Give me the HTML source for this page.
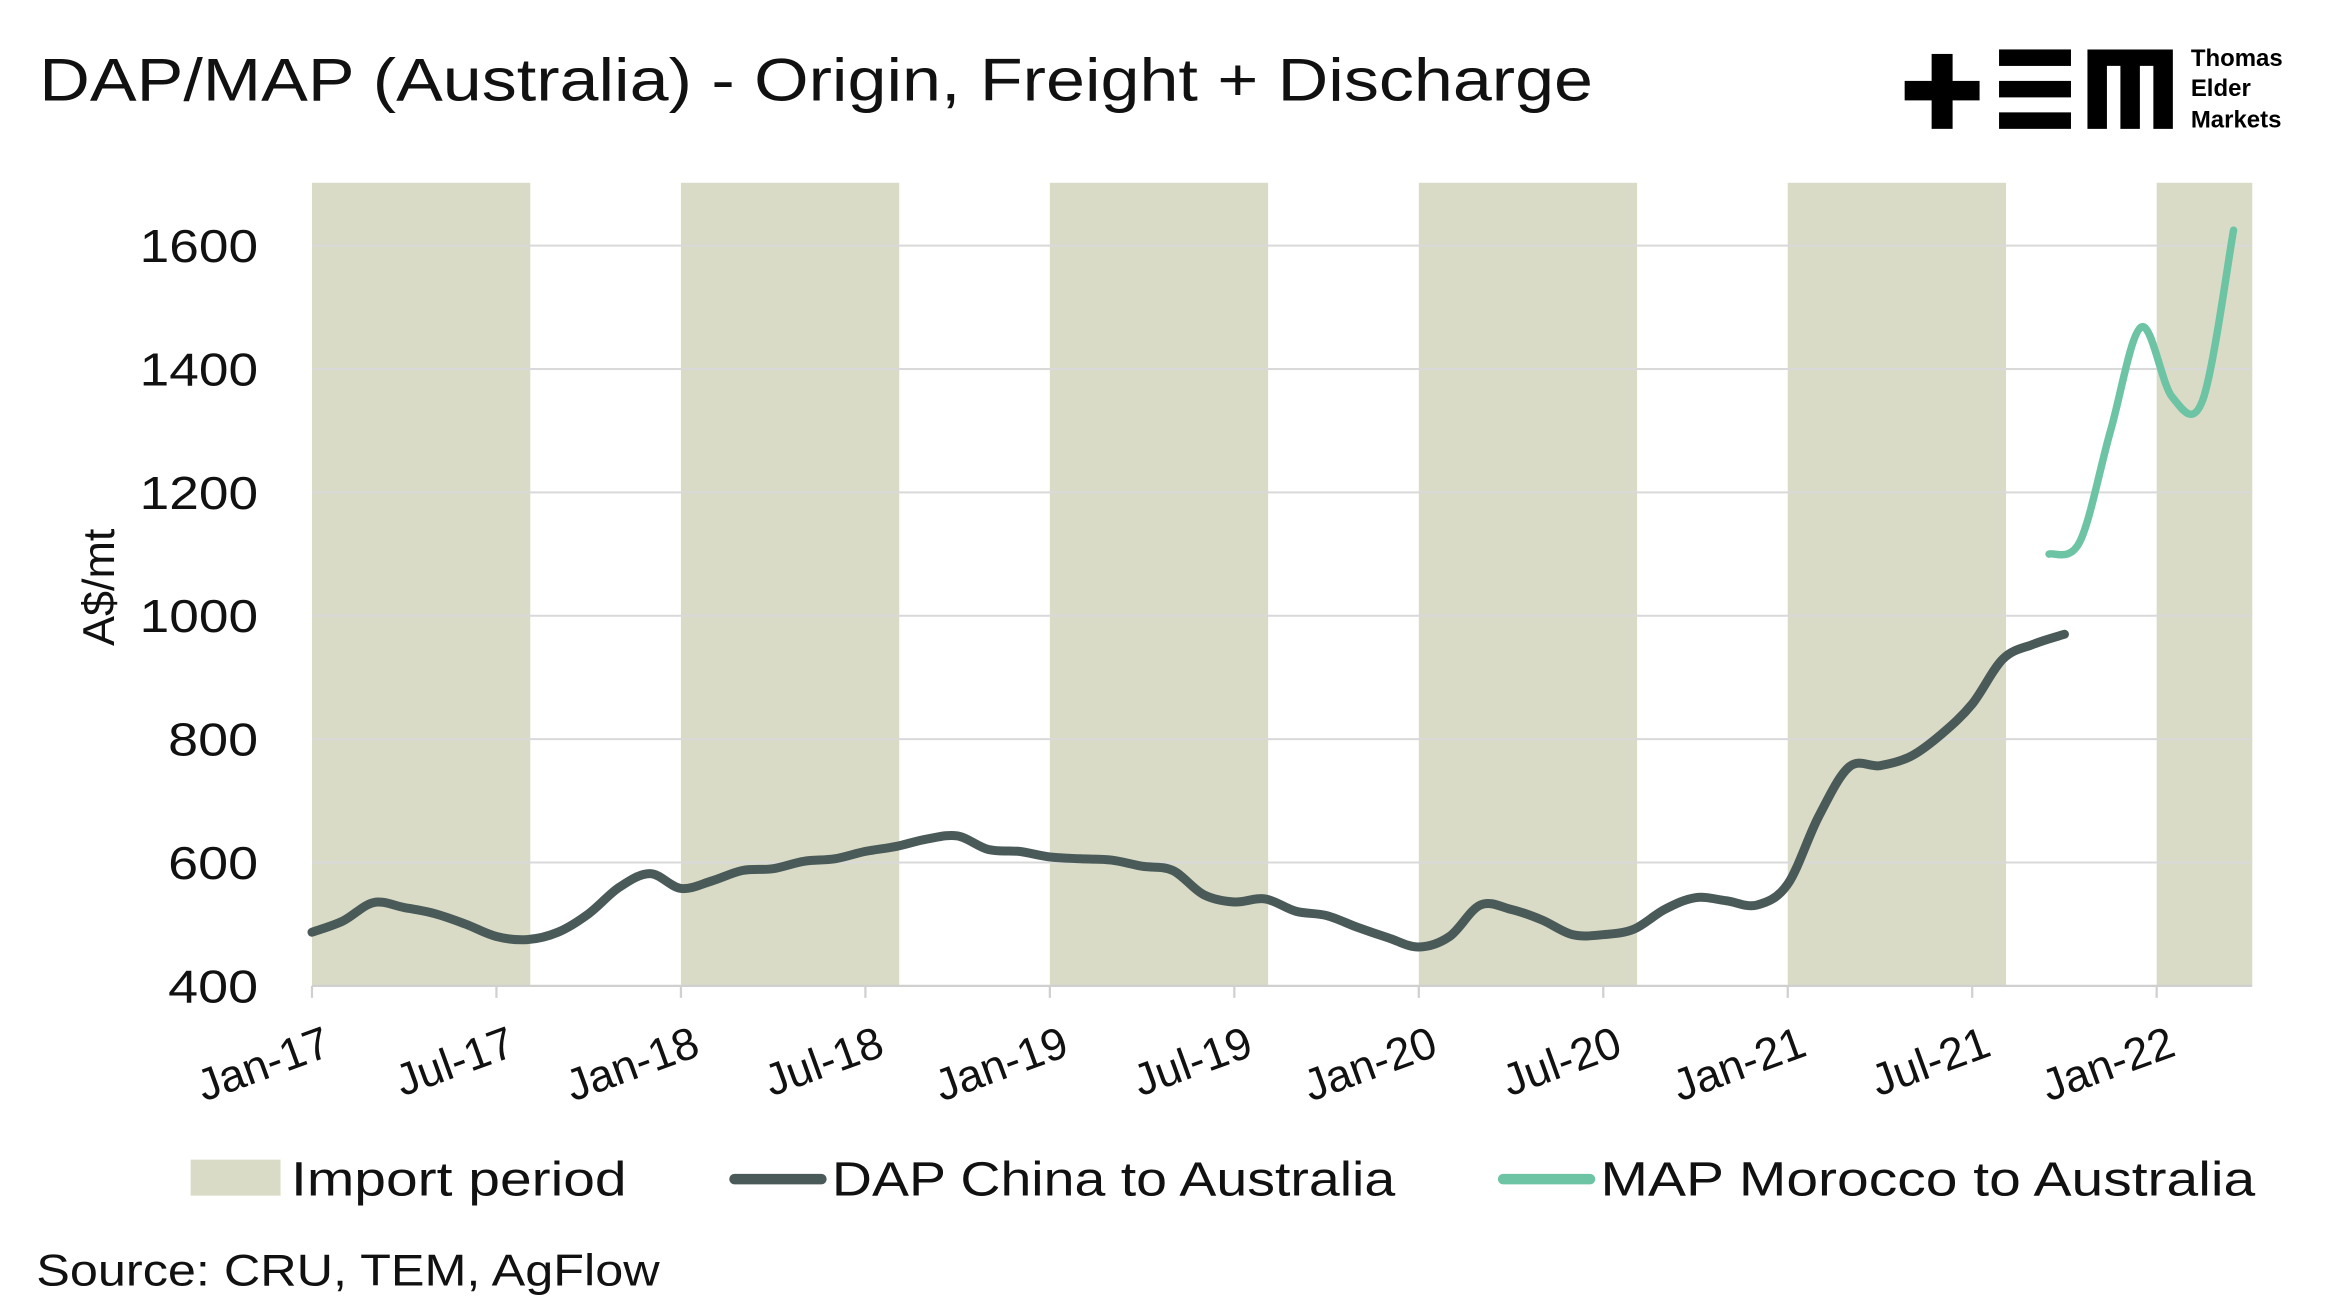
<!DOCTYPE html>
<html><head><meta charset="utf-8"><style>
html,body{margin:0;padding:0;background:#fff;}
svg{display:block;font-family:"Liberation Sans",sans-serif;}
</style></head><body>
<svg id="chart" width="2350" height="1302" viewBox="0 0 1568 869" xmlns="http://www.w3.org/2000/svg">
<rect x="0" y="0" width="1568" height="869" fill="#fff"/>
<text x="26" y="67" font-size="40" textLength="1037" lengthAdjust="spacingAndGlyphs" fill="#111">DAP/MAP (Australia) - Origin, Freight + Discharge</text>
<g>
<rect x="1271" y="54" width="50" height="13" fill="#000"/>
<rect x="1289" y="36" width="14" height="50" fill="#000"/>
<rect x="1334" y="33" width="48" height="11" fill="#000"/>
<rect x="1334" y="54" width="48" height="11" fill="#000"/>
<rect x="1334" y="75" width="48" height="11" fill="#000"/>
<path d="M1393 86 V33 H1450 V86 H1437 V44 H1428 V86 H1415 V44 H1406 V86 Z" fill="#000"/>
<text x="1462" y="44" font-size="16" font-weight="bold" fill="#000">Thomas</text>
<text x="1462" y="64" font-size="16" font-weight="bold" fill="#000">Elder</text>
<text x="1462" y="85" font-size="16" font-weight="bold" fill="#000">Markets</text>
</g>
<g id="bands"></g>
<g id="grid"></g>
<g id="series"></g>
<g id="axes"></g>
<text transform="translate(76,392) rotate(-90)" text-anchor="middle" font-size="30" fill="#111">A$/mt</text>
<g>
<g><rect x="127" y="774" width="60" height="24" fill="#d9dbc6"/><text x="194" y="798" font-size="32" textLength="224" lengthAdjust="spacingAndGlyphs" fill="#111">Import period</text></g>
<g><line x1="490" y1="787" x2="548" y2="787" stroke="#4a5a58" stroke-width="7" stroke-linecap="round"/><text x="555" y="798" font-size="32" textLength="376" lengthAdjust="spacingAndGlyphs" fill="#111">DAP China to Australia</text></g>
<g><line x1="1003" y1="787" x2="1061" y2="787" stroke="#6cc4a4" stroke-width="7" stroke-linecap="round"/><text x="1068" y="798" font-size="32" textLength="437" lengthAdjust="spacingAndGlyphs" fill="#111">MAP Morocco to Australia</text></g>
</g>
<text x="24" y="858" font-size="30" textLength="416" lengthAdjust="spacingAndGlyphs" fill="#111">Source: CRU, TEM, AgFlow</text>
</svg>
<script>
const yTicks=[400,600,800,1000,1200,1400,1600];
const xTickLabels=["Jan-17","Jul-17","Jan-18","Jul-18","Jan-19","Jul-19","Jan-20","Jul-20","Jan-21","Jul-21","Jan-22"];
const bandStarts=[0,12,24,36,48,60];
const bandEnds=[7.1,19.1,31.1,43.1,55.1,63.2];
const dapValues=[487,505,535,527,517,500,480,475,487,517,560,582,558,570,587,590,602,606,618,626,638,643,621,618,609,606,604,594,587,548,536,541,521,514,495,478,463,480,531,524,507,483,483,492,524,543,538,531,565,674,755,757,772,808,857,930,954,970];
const mapStartMonth=56.5;
const mapValues=[1100,1120,1300,1468,1355,1350,1625];
const NS="http://www.w3.org/2000/svg";
const x0=208,monthW=20.52,yBase=658,yPer=0.4117,plotR=1503,plotT=122;
function xs(m){return x0+m*monthW;}
function ys(v){return yBase-(v-400)*yPer;}
function mk(tag,attrs,parent){const e=document.createElementNS(NS,tag);for(const k in attrs)e.setAttribute(k,attrs[k]);document.getElementById(parent).appendChild(e);return e;}
bandStarts.forEach((s,i)=>{const r=mk('rect',{x:xs(s),y:plotT,width:Math.min(xs(bandEnds[i]),plotR)-xs(s),height:yBase-plotT,fill:'#d9dbc6'},'bands');

});
yTicks.forEach(v=>{if(v>400){const l=mk('line',{x1:x0,x2:plotR,y1:ys(v),y2:ys(v),stroke:'#d9d9d9','stroke-width':1.3},'grid');

}
const t=mk('text',{x:172,y:ys(v)+11,'text-anchor':'end','font-size':31,fill:'#111',textLength:String(v).length>3?79:60,lengthAdjust:'spacingAndGlyphs'},'axes');t.textContent=v;

});
const ax=mk('line',{x1:x0,x2:plotR,y1:yBase,y2:yBase,stroke:'#d0d0d0','stroke-width':1.5},'axes');


xTickLabels.forEach((lab,i)=>{const x=xs(i*6);
const tk=mk('line',{x1:x,x2:x,y1:yBase,y2:yBase+8,stroke:'#d0d0d0','stroke-width':1.5},'axes');


const t=mk('text',{x:x+14,y:yBase+46,'text-anchor':'end','font-size':30,fill:'#111',transform:`rotate(-20 ${x+14} ${yBase+46})`},'axes');t.textContent=lab;

});
function smooth(pts){let d=`M${pts[0][0]},${pts[0][1]}`;for(let i=0;i<pts.length-1;i++){const p0=pts[i-1]||pts[i],p1=pts[i],p2=pts[i+1],p3=pts[i+2]||p2;
d+=` C${p1[0]+(p2[0]-p0[0])/6},${p1[1]+(p2[1]-p0[1])/6} ${p2[0]-(p3[0]-p1[0])/6},${p2[1]-(p3[1]-p1[1])/6} ${p2[0]},${p2[1]}`;}return d;}
const dp=mk('path',{d:smooth(dapValues.map((v,i)=>[xs(i),ys(v)])),fill:'none',stroke:'#4a5a58','stroke-width':6,'stroke-linecap':'round','stroke-linejoin':'round'},'series');


const mp=mk('path',{d:smooth(mapValues.map((v,i)=>[xs(mapStartMonth+i),ys(v)])),fill:'none',stroke:'#6cc4a4','stroke-width':5,'stroke-linecap':'round','stroke-linejoin':'round'},'series');


</script>
</body></html>
